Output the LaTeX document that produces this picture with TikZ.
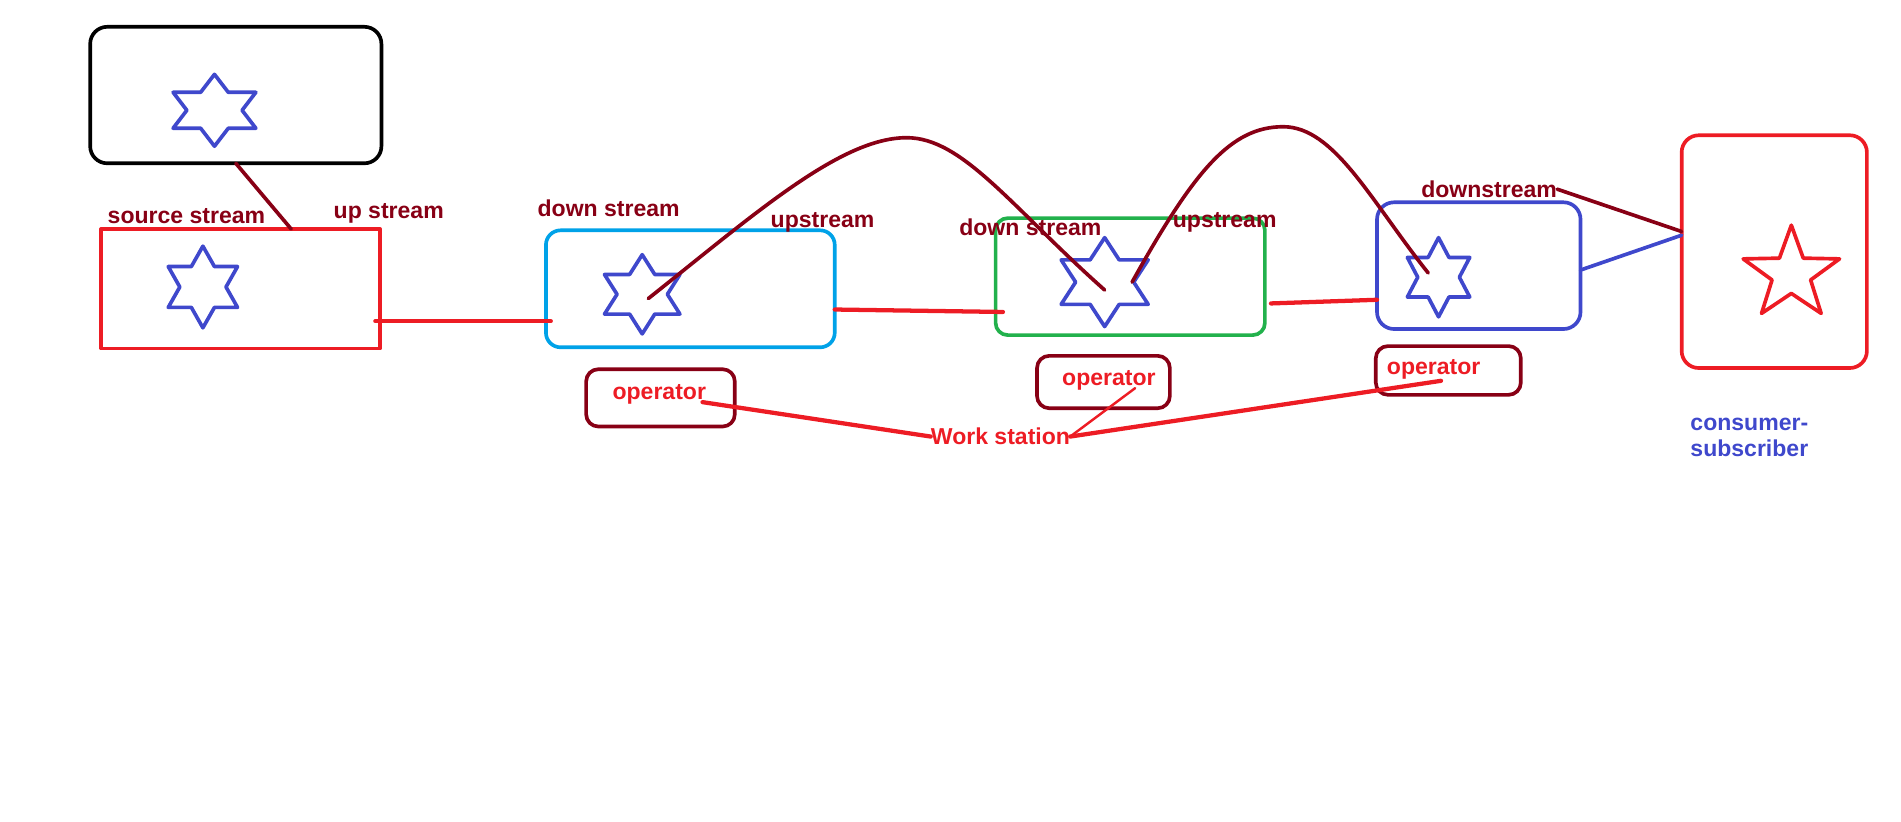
\documentclass[tikz,border=0pt]{standalone}
\usepackage{fontspec}
\setmainfont{Liberation Sans}
\usetikzlibrary{shapes.geometric}

\definecolor{paintred}{HTML}{ED1C24}
\definecolor{paintmaroon}{HTML}{880015}
\definecolor{paintcyan}{HTML}{00A2E8}
\definecolor{paintgreen}{HTML}{22B14C}
\definecolor{paintblue}{HTML}{3F48CC}

\begin{document}
\begin{tikzpicture}[x=1pt, y=-1pt, line cap=round, line join=round,
  every box/.style={draw, line width=3pt, rounded corners=14pt, inner sep=0pt, outer sep=0pt},
  hexagram/.style={draw=paintblue, line width=3pt, star, star points=6, star point ratio=1.732,
    inner sep=0pt, outer sep=0pt, transform shape},
  pentagram/.style={draw=paintred, line width=3pt, star, star points=5, star point ratio=2.5,
    inner sep=0pt, outer sep=0pt, transform shape},
  tag/.style={font=\bfseries\fontsize{18.9}{22}\selectfont, text=paintmaroon, anchor=base, inner sep=0pt},
  link/.style={draw=paintred, line width=3.5pt},
  arc/.style={draw=paintmaroon, line width=3pt}]

\useasboundingbox (0,0) rectangle (1560,674.5);

% boxes
\node [every box, draw=black, minimum width=239pt, minimum height=112pt] (box-top) at (193.5,78) {};
\node [every box, draw=paintred, sharp corners, minimum width=229pt, minimum height=98pt] (box-src) at (197.5,237) {};
\node [every box, draw=paintcyan, rounded corners=12pt, minimum width=237pt, minimum height=96pt] (box-cyan) at (566.5,237) {};
\node [every box, draw=paintgreen, rounded corners=10pt, minimum width=221pt, minimum height=96pt] (box-green) at (927.5,227) {};
\node [every box, draw=paintblue, minimum width=167pt, minimum height=104pt] (box-blue) at (1213.5,218) {};
\node [every box, draw=paintred, minimum width=152pt, minimum height=191pt] (box-cons) at (1456,206.5) {};

\foreach \i/\px/\py/\w/\h in {1/542/326.5/122/47, 2/905.5/313.5/109/43, 3/1188.5/304/119/40}
  \node [every box, draw=paintmaroon, rounded corners=10pt, minimum width=\w pt, minimum height=\h pt] (op-\i) at (\px,\py) {};

% stars
\node [hexagram, minimum size=59pt, xscale=1.33] (star-top) at (176,90.5) {};
\node [hexagram, minimum size=67pt, xscale=0.98] (star-src) at (166.5,235.5) {};
\node [hexagram, minimum size=65pt, xscale=1.10] (star-cyan) at (527,241.5) {};
\node [hexagram, minimum size=73pt, xscale=1.13] (star-green) at (906.5,231.5) {};
\node [hexagram, minimum size=65pt, xscale=0.91] (star-blue) at (1180.5,227.5) {};
\node [pentagram, minimum size=80pt, xscale=1.04] (star-cons) at (1470,224.8) {};

% labels
\foreach \n/\l/\px/\py in {src/source stream/153/183, up1/up stream/319/179,
    down1/down stream/499.5/178, up2/upstream/675/187, down2/down stream/845.5/193,
    up3/upstream/1005/187, down3/downstream/1222/162}
  \node [tag] (lbl-\n) at (\px,\py) {\l};

\foreach \i/\px/\py in {1/541/327.5, 2/910/316, 3/1176.5/307}
  \node [tag, text=paintred] (optxt-\i) at (\px,\py) {operator};

\node [tag, text=paintred] (work) at (821,365) {Work station};
\node [tag, text=paintblue, anchor=base west, align=left] (consumer) at (1387,375) {consumer-\\subscriber};

% connectors
\draw [arc] (box-top.south) -- ([xshift=41.5pt]box-src.north);
\draw [link] ([xshift=-4pt,yshift=-26.5pt]box-src.east) -- ([xshift=4pt,yshift=-26.5pt]box-cyan.west);
\draw [link] ([yshift=-17pt]box-cyan.east) -- ([xshift=6pt,yshift=-29pt]box-green.west);
\draw [link] ([xshift=5pt,yshift=-22pt]box-green.east) -- ([yshift=-28pt]box-blue.west);
\draw [draw=paintblue, line width=3pt] ([yshift=-3.6pt]box-blue.east) -- ([yshift=13.5pt]box-cons.west);
\draw [arc] (lbl-down3.east) -- ([yshift=16.5pt]box-cons.west);

\draw [arc] ([xshift=5pt,yshift=-3.5pt]star-cyan.center)
  .. controls (620,175) and (690,113) .. (744,113)
  .. controls (790,113) and (830,170) .. ([yshift=-6.5pt]star-green.center);
\draw [arc] ([xshift=22.5pt]star-green.center)
  .. controls (980,140) and (1010,104) .. (1053,104)
  .. controls (1095,104) and (1125,165) .. ([xshift=-8.5pt,yshift=3.5pt]star-blue.center);

\draw [link] ([xshift=-3pt,yshift=-2.5pt]optxt-1.base east) -- (work.west);
\draw [link, line width=2pt] ([xshift=-17pt,yshift=-2.5pt]optxt-2.base east) -- (work.east);
\draw [link] ([xshift=6pt,yshift=-5.5pt]optxt-3.base) -- (work.east);

\end{tikzpicture}
\end{document}
